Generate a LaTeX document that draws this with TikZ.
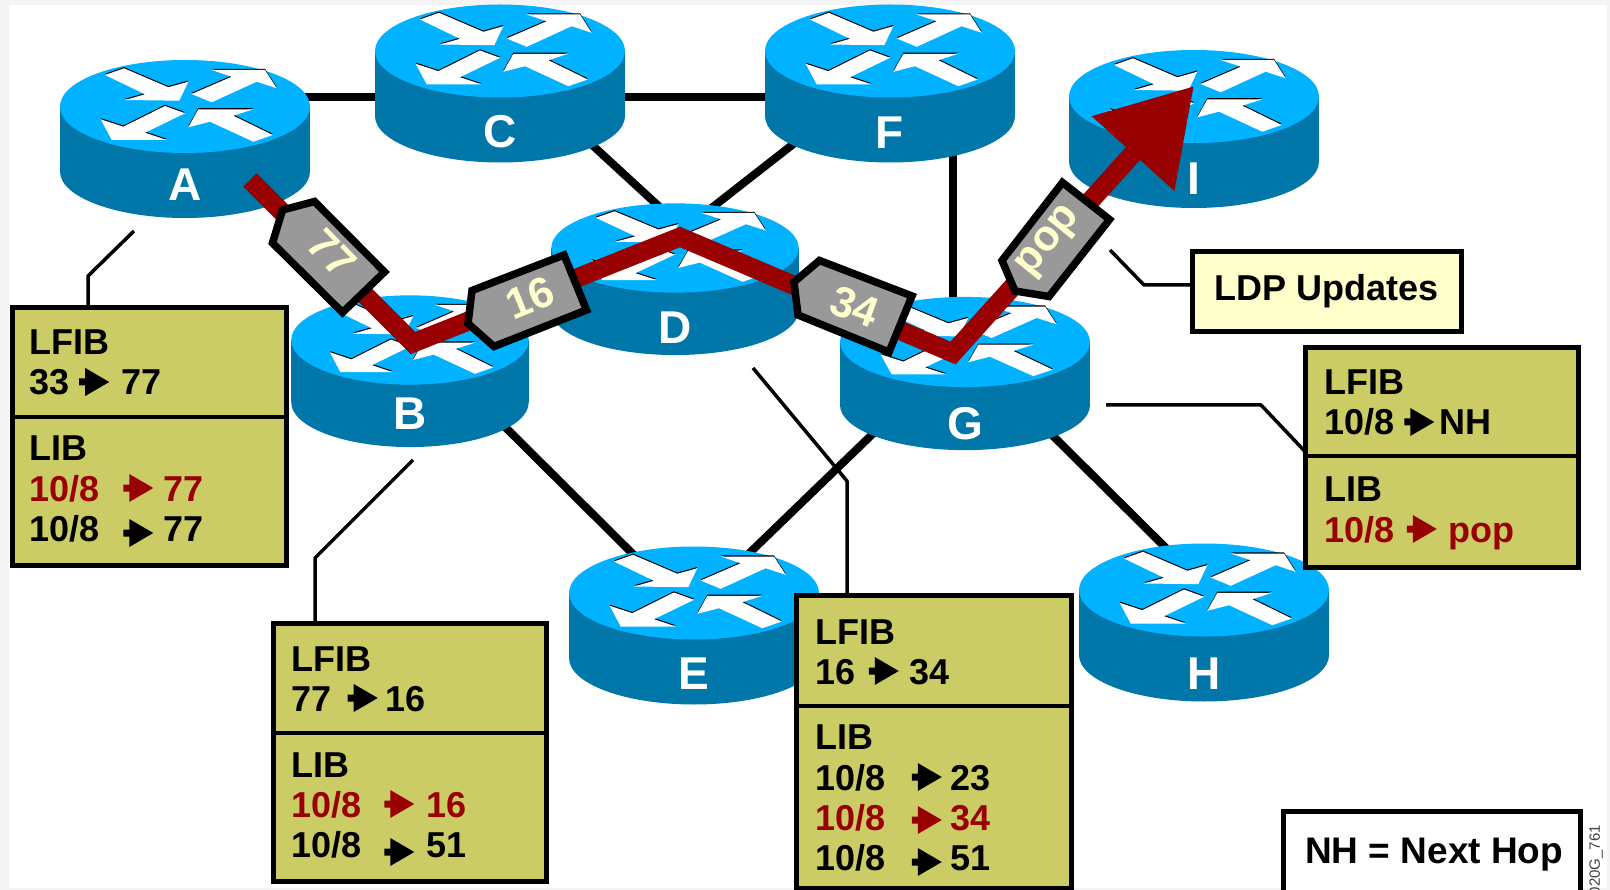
\documentclass[tikz,border=0pt]{standalone}
\usepackage{fontspec}
\setmainfont{Liberation Sans}
\usetikzlibrary{arrows.meta}

\definecolor{routertop}{HTML}{00B2FF}
\definecolor{routerside}{HTML}{0077A8}
\definecolor{lspred}{HTML}{990000}
\definecolor{tablefill}{HTML}{CCCC66}
\definecolor{notefill}{HTML}{FFFFCC}
\definecolor{taggray}{HTML}{999999}
\definecolor{pagegray}{HTML}{F4F4F4}

% name, x, y, xscale, yscale, y of the letter
\newcommand{\router}[6]{
  \begin{scope}[shift={(#2,#3)}, xscale=#4, yscale=#5]
    \fill[routerside] (-125,0) rectangle (125,65);
    \fill[routerside] (0,65) ellipse [x radius=125, y radius=46.5];
    \fill[routertop] (0,0) ellipse [x radius=125, y radius=46.5];
    \fill[routerarrow] (-80,-31.5) -- (-61,-38.2) -- (-16.7,-19.2) -- (3.3,-24.8) -- (-5.7,-5.8) -- (-60,-6.5) -- (-40,-12.2) -- cycle;
    \fill[routerarrow] (6.7,-12.5) -- (46.7,-29.8) -- (26.7,-36.5) -- (80,-36.5) -- (91.7,-18.2) -- (71.7,-24.8) -- (26.7,-4.2) -- cycle;
    \fill[routerarrow] (-84.3,12.8) -- (-61.7,20.2) -- (-20,-0.5) -- (0,6.8) -- (-40,26.2) -- (-18.3,33.5) -- (-73.3,33.5) -- cycle;
    \fill[routerarrow] (3.3,20.8) -- (13.3,2.8) -- (68.3,2.8) -- (48.3,9.2) -- (87.7,28.5) -- (68.3,35.2) -- (25,15.2) -- cycle;
  \end{scope}
  \node[routerlabel] (#1-name) at (#2,#6) {#1};
}
% [drop below the baseline], gap before, gap after
\newcommand{\hop}[3][0]{\hspace*{#2pt}\tikz[x=1pt,y=1pt,baseline=#1pt]\fill[fill=.] (0,9.5) -- (6,9.5) -- (6,-1) -- (30,13) -- (6,27) -- (6,16.5) -- (0,16.5) -- cycle;\hspace*{#3pt}}

\begin{document}
\begin{tikzpicture}[x=1pt, y=-1pt,
    link/.style ={line width=8pt},
    callout/.style ={line width=3.5pt, line join=round},
    lsp/.style ={draw=lspred, line width=19pt, -{Triangle[length=91pt, width=106pt]}},
    routerarrow/.style ={fill=white, preaction={fill=black, transform canvas={yshift=1.2pt}}},
    routerlabel/.style ={text=white, font=\fontsize{46}{50}\selectfont\bfseries, inner sep=0pt},
    tagshape/.style ={fill=taggray, draw=black, line width=7.5pt, line join=miter},
    taglabel/.style ={text=notefill, font=\fontsize{43}{48}\selectfont\bfseries, inner sep=0pt},
    tablebox/.style ={rectangle, draw=black, fill=tablefill, line width=5pt, outer sep=0pt, inner sep=0pt},
    notebox/.style ={rectangle, draw=black, line width=5pt, outer sep=0pt, inner sep=0pt},
    divider/.style ={line width=4.5pt},
    row/.style ={anchor=base west, font=\fontsize{36}{40}\selectfont\bfseries, inner sep=0pt},
    redrow/.style ={row, text=lspred}]
   \useasboundingbox (0,0) rectangle (1610,890);
   \fill[pagegray] (0,0) rectangle (1610,890);
   \fill[white] (9,5) rectangle (1607,888);

   \coordinate (A) at (185,106.5);
   \coordinate (B) at (410,340);
   \coordinate (C) at (499,51);
   \coordinate (D) at (675,248);
   \coordinate (E) at (694,593);
   \coordinate (F) at (890,51);
   \coordinate (G) at (964,342);
   \coordinate (H) at (1204,590);
   \coordinate (I) at (1194,96.5);

   \draw[link] ([shift={(100,-9.5)}]A) -- ([shift={(-100,46)}]C);
   \draw[link] ([shift={(91,92)}]C) -- ([shift={(-10,-36)}]D);
   \draw[link] ([shift={(-100,46)}]F) -- ([shift={(100,46)}]C);
   \draw[link] ([shift={(-80,80)}]F) -- ([shift={(25,-31)}]D);
   \draw[link] ([shift={(63,80)}]F) -- ([shift={(-11,-20)}]G);
   \draw[link] ([shift={(80,72)}]B) -- ([shift={(-44,-22)}]E);
   \draw[link] ([shift={(-79,80)}]G) -- ([shift={(41,-26)}]E);
   \draw[link] ([shift={(76,81)}]G) -- ([shift={(-29,-33)}]H);

   \router{A}{185}{106.5}{1}{1}{184.5}
   \router{C}{500}{51}{1}{1}{132}
   \router{F}{890}{51}{1}{1}{133}
   \router{I}{1194}{96.5}{1}{1}{179}
   \router{B}{410}{340}{0.95}{0.96}{414}
   \router{D}{675}{248}{0.99}{0.96}{328}
   \router{G}{965}{342}{1}{0.97}{424}
   \router{E}{694}{593}{1}{1}{674}
   \router{H}{1204}{590}{1}{1}{674}

   % label switched path
   \coordinate (lspStart) at (250,180);
   \coordinate (lspB) at (413,343);
   \coordinate (lspD) at (680,237);
   \coordinate (lspG) at (953,353);
   \coordinate (lspTip) at (1194,86);
   \draw[lsp] (lspStart) -- (lspB) -- (lspD) -- (lspG) -- (lspTip);

   \draw[tagshape] (282.5,210) -- (314.5,201.5) -- (384.5,272) -- (342.5,312.5) -- (272.5,243) -- cycle;
   \node[taglabel, rotate=-46] (tag77) at (332,253) {77};
   \draw[tagshape] (472,290.5) -- (564,255) -- (586.5,310) -- (494,346.5) -- (468,323.5) -- cycle;
   \node[taglabel, rotate=22] (tag16) at (530,298) {16};
   \draw[tagshape] (794,282) -- (819.5,260.5) -- (912,296) -- (889,352) -- (798,315) -- cycle;
   \node[taglabel, rotate=-20] (tag34) at (855,307) {34};
   \draw[tagshape] (1062.5,182.5) -- (1109.5,219.5) -- (1049,296.5) -- (1015,291) -- (1002,260.5) -- cycle;
   \node[taglabel, rotate=51] (tagPop) at (1050,242) {pop};

   % tables
   \node[tablebox, minimum width=274pt, minimum height=258pt] (tableA) at (149.5,436.5) {};
   \draw[divider] (tableA.west |- 0,417) -- (tableA.east |- 0,417);
   \node[row] (lfibA) at (29,355) {LFIB};
   \node[row] (lfibArow) at (29,395) {33\hop{10}{12}77};
   \node[row] (libA) at (29,461) {LIB};
   \node[redrow] (libAred) at (29,501) {10/8\hop{24}{10}77};
   \node[row] (libArow) at (29,541) {10/8\hop[5]{24}{10}77};

   \node[tablebox, minimum width=273pt, minimum height=258pt] (tableB) at (409.5,752.5) {};
   \draw[divider] (tableB.west |- 0,733) -- (tableB.east |- 0,733);
   \node[row] (lfibB) at (291,671) {LFIB};
   \node[row] (lfibBrow) at (291,711) {77\hop{16.5}{7.3}16};
   \node[row] (libB) at (291,777) {LIB};
   \node[redrow] (libBred) at (291,817) {10/8\hop{23}{12}16};
   \node[row] (libBrow) at (291,857) {10/8\hop[8]{23}{12.5}51};

   \node[tablebox, minimum width=275pt, minimum height=293pt] (tableD) at (933.5,741.5) {};
   \draw[divider] (tableD.west |- 0,706) -- (tableD.east |- 0,706);
   \node[row] (lfibD) at (815,644) {LFIB};
   \node[row] (lfibDrow) at (815,684) {16\hop{13.5}{10.6}34};
   \node[row] (libD) at (815,749) {LIB};
   \node[row] (libDrow) at (815,790) {10/8\hop{26.5}{9}23};
   \node[redrow] (libDred) at (815,830) {10/8\hop[3]{26.5}{9}34};
   \node[row] (libDlast) at (815,870) {10/8\hop[5]{26.5}{9}51};

   \node[tablebox, minimum width=273pt, minimum height=220pt] (tableG) at (1442,457.5) {};
   \draw[divider] (tableG.west |- 0,456) -- (tableG.east |- 0,456);
   \node[row] (lfibG) at (1324,395) {LFIB};
   \node[row] (lfibGrow) at (1324,435) {10/8\hop{10}{5}NH};
   \node[row] (libG) at (1324,502) {LIB};
   \node[redrow] (libGred) at (1324,542) {10/8\hop{12.5}{12}pop};

   \node[notebox, fill=notefill, minimum width=269pt, minimum height=80pt, font=\fontsize{36}{42}\selectfont\bfseries] (updates) at (1327,291.5) {\raisebox{-5pt}{LDP Updates}};
   \node[notebox, fill=white, minimum width=297pt, minimum height=91pt] (legend) at (1432,857) {};
   \node[row, font=\fontsize{37}{42}\selectfont\bfseries] (legendText) at (1305,863) {NH = Next Hop};
   \node[rotate=90, anchor=east, inner sep=0pt, text=black!75, font=\fontsize{15}{17}\selectfont] (figId) at (1596,825) {020G\_761};

   % callouts
   \coordinate (fromA) at (134,231);
   \coordinate (elbowA) at (88,276);
   \coordinate (fromB) at (413,460);
   \coordinate (elbowB) at (315,558);
   \coordinate (fromD) at (753,368);
   \coordinate (elbowD) at (847,481);
   \coordinate (fromG) at (1106,405);
   \coordinate (elbowG) at (1261,405);
   \coordinate (fromPop) at (1110,250);
   \coordinate (elbowPop) at (1144,285);
   \draw[callout] (fromA) -- (elbowA) -- (elbowA |- tableA.north);
   \draw[callout] (fromB) -- (elbowB) -- (elbowB |- tableB.north);
   \draw[callout] (fromD) -- (elbowD) -- (elbowD |- tableD.north);
   \draw[callout] (fromG) -- (elbowG) -- (tableG.west |- 0,452);
   \draw[callout] (fromPop) -- (elbowPop) -- (updates.west |- elbowPop);
 \end{tikzpicture}
\end{document}
